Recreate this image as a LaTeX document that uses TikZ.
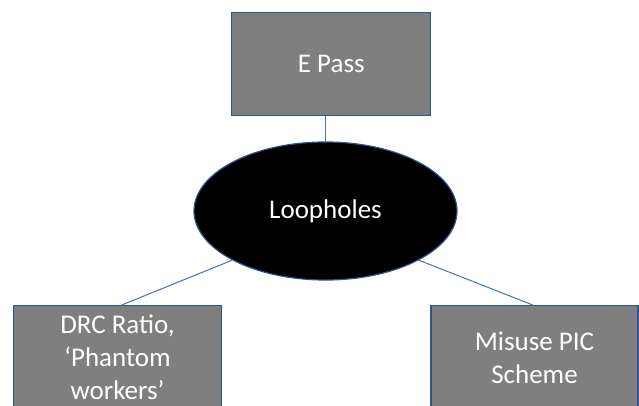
\documentclass[tikz,border=0pt]{standalone}
\usepackage{fontspec}
\setmainfont{Carlito}
\usetikzlibrary{shapes.geometric}
\definecolor{edgeblue}{HTML}{2F528F}
\definecolor{linkblue}{HTML}{4472C4}
\definecolor{boxgray}{HTML}{7F7F7F}
\tikzset{
  box/.style={draw=edgeblue, line width=1.2pt, fill=boxgray, text=white,
    inner sep=0pt, minimum width=205pt, minimum height=103.4pt,
    align=center, font=\fontsize{27}{33}\selectfont},
  hub/.style={ellipse, draw=edgeblue, line width=1.2pt, fill=black, text=white,
    inner sep=0pt, minimum width=263pt, minimum height=138pt,
    font=\fontsize{27}{33}\selectfont},
  link/.style={draw=linkblue, line width=1pt}
}
\begin{document}
\begin{tikzpicture}[x=1pt, y=-1pt]
  \clip (0,0) rectangle (639,406);
  \fill[white] (0,0) rectangle (639,406);

  \node[box, minimum width=199pt] (ep) at (331.3,64) {E Pass};
  \node[hub] (lp) at (325.5,211) {Loopholes};
  \node[box, minimum width=208.4pt] (drc) at (117.5,357.4) {DRC Ratio,\\‘Phantom\\workers’};
  \node[box, minimum width=207pt] (pic) at (534.5,357.4) {Misuse PIC\\Scheme};

  \draw[link] (lp.north) -- (lp.north |- ep.south);
  \draw[link] (lp.south west) -- ([xshift=4pt]drc.north);
  \draw[link] (lp.south east) -- ([xshift=-1.5pt]pic.north);
\end{tikzpicture}
\end{document}
